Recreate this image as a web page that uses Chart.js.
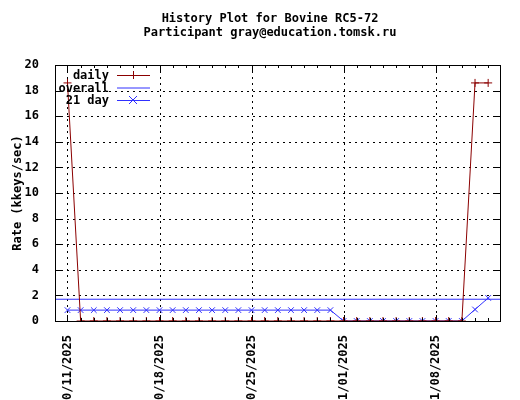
<!DOCTYPE html>
<html><head><meta charset="utf-8">
<script src="https://cdn.jsdelivr.net/npm/chart.js@4"></script>
<style>body{margin:0;background:#fff}canvas{display:block}</style>
</head><body><div style="width:520px;height:400px"><canvas id="c" width="520" height="400"></canvas></div>
<script>
const dates = ["10/11/2025","10/18/2025","10/25/2025","11/01/2025","11/08/2025"];
const dailyDays = [0,1,2,3,4,5,6,7,8,9,10,11,12,13,14,15,16,17,18,19,20,21,22,23,24,25,26,27,28,29,30,31,32];
const dailyVals = [18.6,0,0,0,0,0,0,0,0,0,0,0,0,0,0,0,0,0,0,0,0,0,0,0,0,0,0,0,0,0,0,18.6,18.6];
const avgDays = dailyDays;
const avgVals = [0.85,0.85,0.85,0.85,0.85,0.85,0.85,0.85,0.85,0.85,0.85,0.85,0.85,0.85,0.85,0.85,0.85,0.85,0.85,0.85,0.85,0,0,0,0,0,0,0,0,0,0,0.9,1.8];
const overall = 1.7;
const xMin = -0.95, xMax = 32.9;
const FONT = "'DejaVu Sans Mono', monospace";
const red = "#8b0000", blue = "#3030ff";

const grid = {
  id:'grid',
  beforeDatasetsDraw(ch){
    const c=ch.ctx, a=ch.chartArea, ys=ch.scales.y, xs=ch.scales.x;
    c.save(); c.strokeStyle='#000'; c.lineWidth=1; c.setLineDash([2,4]);
    c.beginPath();
    for(let v=2;v<20;v+=2){const y=Math.round(ys.getPixelForValue(v))+0.5;c.moveTo(a.left,y);c.lineTo(a.right,y);}
    for(let d=0;d<=28;d+=7){const x=Math.round(xs.getPixelForValue(d))+0.5;c.moveTo(x,a.top);c.lineTo(x,a.bottom);}
    c.stroke(); c.restore();
  },
  afterDraw(ch){
    const c=ch.ctx, a=ch.chartArea;
    c.save();
    c.strokeStyle='#000'; c.lineWidth=1;
    c.strokeRect(a.left+0.5,a.top+0.5,a.right-a.left,a.bottom-a.top);
    const ys=ch.scales.y, xs=ch.scales.x;
    c.beginPath();
    for(let v=0;v<=20;v+=2){const y=Math.round(ys.getPixelForValue(v))+0.5;c.moveTo(a.left,y);c.lineTo(a.left+6,y);c.moveTo(a.right,y);c.lineTo(a.right-6,y);}
    for(let d=0;d<=32;d++){const x=Math.round(xs.getPixelForValue(d))+0.5;const L=d%7==0?6:3;c.moveTo(x,a.bottom);c.lineTo(x,a.bottom-L);c.moveTo(x,a.top);c.lineTo(x,a.top+L);}
    c.stroke();
    c.fillStyle='#000'; c.font="bold 12px "+FONT; c.textAlign='center';
    c.fillText('History Plot for Bovine RC5-72',270,22);
    c.fillText('Participant gray@education.tomsk.ru',270,36);
    c.save(); c.translate(17,193); c.rotate(-Math.PI/2); c.fillText('Rate (kkeys/sec)',0,4); c.restore();
    const items=[['daily',red,'cross'],['overall',blue,null],['21 day',blue,'x']];
    c.textAlign='right';
    items.forEach((it,i)=>{
      const y=75+i*12.5;
      c.fillStyle='#000'; c.fillText(it[0],109,y+4);
      c.strokeStyle=it[1]; c.beginPath(); c.moveTo(117,y+0.5); c.lineTo(150,y+0.5); c.stroke();
      const m=133;
      if(it[2]=='cross'){c.beginPath();c.moveTo(m-4,y+0.5);c.lineTo(m+4,y+0.5);c.moveTo(m+0.5,y-4);c.lineTo(m+0.5,y+4);c.stroke();}
      if(it[2]=='x'){c.beginPath();c.moveTo(m-4,y-4);c.lineTo(m+4,y+4);c.moveTo(m-4,y+4);c.lineTo(m+4,y-4);c.stroke();}
    });
    c.restore();
  }
};

new Chart(document.getElementById('c'),{
  type:'scatter',
  data:{datasets:[
    {label:'daily',data:dailyDays.map((d,i)=>({x:d,y:dailyVals[i]})),showLine:true,borderColor:red,backgroundColor:red,pointStyle:'cross',pointRadius:4,borderWidth:1,pointBorderWidth:1,tension:0},
    {label:'overall',data:[{x:xMin,y:overall},{x:xMax,y:overall}],showLine:true,borderColor:blue,pointRadius:0,borderWidth:1},
    {label:'21 day',data:avgDays.map((d,i)=>({x:d,y:avgVals[i]})),showLine:true,borderColor:blue,backgroundColor:blue,pointStyle:'crossRot',pointRadius:4,borderWidth:1,pointBorderWidth:1}
  ]},
  options:{
    responsive:false,animation:false,
    layout:{padding:{top:65,right:20,left:0,bottom:0}},
    plugins:{legend:{display:false},tooltip:{enabled:false}},
    scales:{
      x:{type:'linear',min:xMin,max:xMax,
        afterBuildTicks(s){s.ticks=[0,7,14,21,28].map(v=>({value:v}));},
        afterFit(s){s.height=79;},
        grid:{display:false},border:{display:false},
        ticks:{callback:(v)=>dates[v/7],maxRotation:90,minRotation:90,color:'#000',font:{family:FONT,size:12,weight:'bold'},padding:6}},
      y:{min:0,max:20,
        afterFit(s){s.width=55;},
        ticks:{stepSize:2,color:'#000',font:{family:FONT,size:12,weight:'bold'},padding:8},
        grid:{display:false},border:{display:false}}
    }
  },
  plugins:[grid]
});
</script></body></html>
